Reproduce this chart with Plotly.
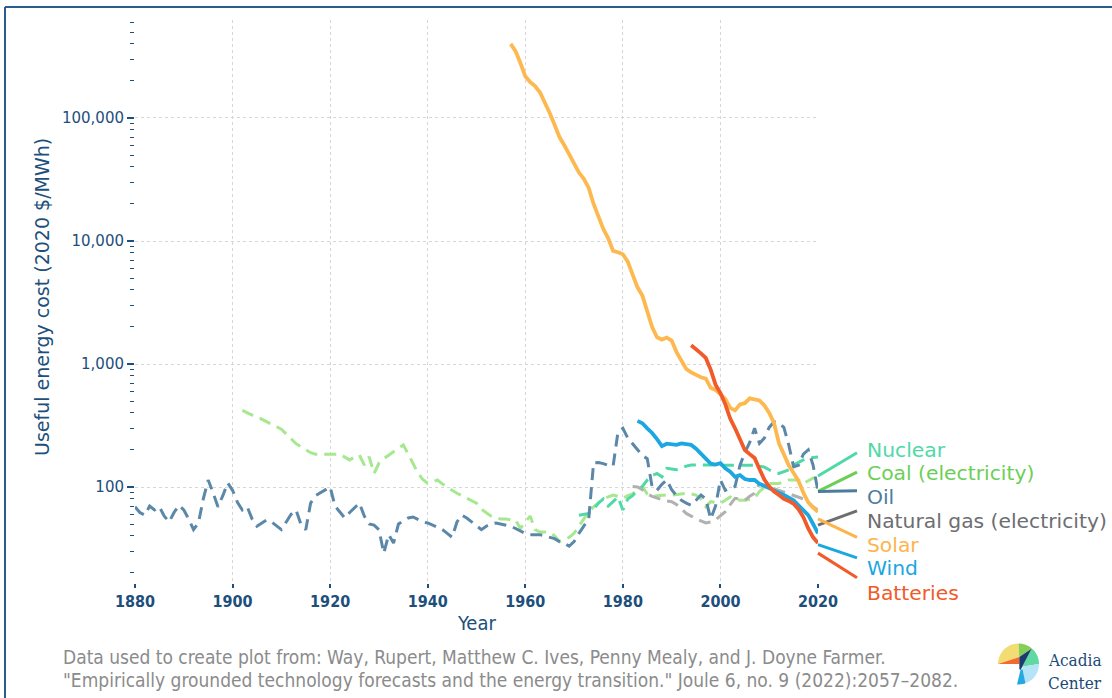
import numpy as np
import plotly.graph_objects as go

# ---------------- data (2020 $/MWh) ----------------
oil_years = list(range(1880, 2021))
oil_cost = [69, 62, 59, 70, 65, 69, 58, 52, 62, 71,
            65, 55, 45, 51, 80, 114, 90, 69, 85, 108,
            94, 75, 65, 69, 55, 48, 51, 54, 52, 48,
            45, 52, 60, 65, 50, 45, 74, 85, 90, 95,
            100, 70, 62, 56, 62, 68, 74, 58, 50, 49,
            45, 29, 41, 35, 50, 53, 56, 57, 54, 52,
            51, 49, 47, 45, 42, 39, 52, 59, 56, 52,
            48, 45, 48, 50, 51, 50, 49, 48, 46, 44,
            42, 41, 41, 41, 40, 39, 38, 36, 35, 33,
            36, 42, 48, 55, 157, 158, 155, 150, 148, 280,
            300, 250, 225, 200, 180, 170, 100, 94, 105, 114,
            95, 85, 78, 74, 71, 78, 86, 80, 55, 70,
            114, 94, 98, 101, 150, 190, 230, 300, 226, 250,
            305, 339, 330, 305, 220, 146, 150, 185, 200, 150,
            92]

coal_years = list(range(1902, 2021))
coal_cost = [420, 400, 385, 373, 355, 340, 325, 310,
             295, 270, 245, 225, 213, 200, 190, 185, 185, 185,
             185, 185, 185, 175, 166, 175, 182, 151, 176, 129,
             156, 170, 182, 195, 208, 220, 185, 155, 130, 115,
             107, 110, 114, 106, 99, 94, 89, 85, 82, 78,
             74, 66, 62, 58, 56, 55, 55, 54, 54, 46,
             52, 58, 45, 43, 43, 43, 40, 36, 37, 39,
             42, 48, 56, 63, 69, 75, 80, 83, 86, 84,
             81, 85, 88, 95, 101, 88, 83, 85, 86, 86,
             86, 87, 88, 89, 88, 86, 80, 69, 76, 75,
             74, 78, 83, 80, 78, 78, 80, 81, 92, 100,
             107, 107, 107, 110, 114, 114, 114, 107, 112, 118,
             121]

nuclear_years = list(range(1971, 2021))
nuclear_cost = [59, 60, 61, 66, 74, 80, 70, 76, 83,
                65, 80, 85, 95, 101, 114, 124, 129, 121, 142,
                140, 138, 142, 148, 151, 151, 151, 151, 151, 151,
                151, 151, 151, 151, 151, 151, 151, 150, 148, 145,
                138, 132, 129, 134, 138, 151, 158, 166, 170, 174,
                175]

gas_years = list(range(1982, 2021))
gas_cost = [101, 100, 95, 88, 84, 81, 79, 77,
            76, 72, 66, 61, 58, 55, 53, 51, 52, 54,
            58, 63, 72, 81, 80, 78, 84, 89, 107, 104,
            101, 97, 94, 91, 89, 86, 83, 80, 75, 69,
            65]

solar_years = list(range(1957, 2021))
solar_cost = [400000, 350000, 280000,
              218000, 196000, 182000, 162000, 135000, 110000, 88000, 70000, 60000, 51000,
              43000, 36000, 32000, 27000, 20000, 16000, 12500, 10500, 8300, 8100,
              7800, 6800, 5200, 4200, 3600, 2700, 2000, 1650, 1580, 1640,
              1550, 1250, 1050, 910, 855, 815, 780, 760, 640, 615,
              570, 520, 440, 420, 470, 480, 525, 515, 505, 460,
              400, 330, 226, 185, 150, 130, 112, 90, 75, 68,
              63]

wind_years = list(range(1983, 2021))
wind_cost = [345, 330, 300, 275, 245, 215, 225,
             222, 220, 226, 222, 220, 205, 185, 170, 155, 152,
             156, 142, 133, 121, 125, 116, 114, 114, 106, 102,
             99, 95, 90, 86, 82, 78, 71, 65, 59, 50,
             42]

battery_years = list(range(1994, 2021))
battery_cost = [1420, 1300, 1220, 1120, 900, 680,
                580, 470, 360, 300, 240, 200, 185, 172, 140, 115,
                101, 92, 86, 80, 77, 73, 66, 57, 46, 39,
                35]

for yrs, vals in [(oil_years, oil_cost), (coal_years, coal_cost), (nuclear_years, nuclear_cost),
                  (gas_years, gas_cost), (solar_years, solar_cost), (wind_years, wind_cost),
                  (battery_years, battery_cost)]:
    assert len(yrs) == len(vals), (yrs[0], len(yrs), len(vals))

x_ticks = [1880, 1900, 1920, 1940, 1960, 1980, 2000, 2020]
y_ticks = [100, 1000, 10000, 100000]
y_ticktext = ["100", "1,000", "10,000", "100,000"]
y_minor = [m * 10 ** e for e in range(1, 6) for m in range(2, 10) if m * 10 ** e <= 600000]

# label name, label colour, label y (value), connector start (value), connector end (value)
label_names = ["Nuclear", "Coal (electricity)", "Oil", "Natural gas (electricity)", "Solar", "Wind", "Batteries"]
label_colors = ["#4fd9a6", "#6ccf55", "#4b7c9c", "#6d6e71", "#fdb44b", "#1ca7e0", "#f15a29"]
label_y = [200, 130, 83, 53, 34, 21.8, 13.8]
conn_start = [123, 92, 92, 49, 55, 34, 29]
conn_end = [190, 132, 93, 64, 39, 26.5, 18.3]

# ---------------- styles ----------------
NAVY = "#1d4f7c"
COND = "DejaVu Sans Condensed, Liberation Sans Narrow, DejaVu Sans"
W, H = 1112, 698
L, R, T, B = 135, 294, 20, 115
YMIN, YMAX = 1.2195, 5.7967

def px_x(px):
    return (px - L) / (W - L - R)

def px_y(py):
    return (H - B - py) / (H - T - B)

def val_y(v):
    return (np.log10(v) - YMIN) / (YMAX - YMIN)

fig = go.Figure()

series = [
    ("Coal (electricity)", coal_years, coal_cost, "#a6e88f", "12px,7px", 3),
    ("Nuclear", nuclear_years, nuclear_cost, "#4fd9a6", "12px,7px", 3),
    ("Natural gas (electricity)", gas_years, gas_cost, "#b1b1b1", "12px,7px", 3),
    ("Oil", oil_years, oil_cost, "#5b88a8", "12px,7px", 3),
    ("Wind", wind_years, wind_cost, "#1ca7e0", "solid", 3.8),
    ("Solar", solar_years, solar_cost, "#fdb94f", "solid", 3.8),
    ("Batteries", battery_years, battery_cost, "#f15a29", "solid", 3.8),
]
for name, xs, ys, col, dash, wd in series:
    fig.add_trace(go.Scatter(x=xs, y=ys, mode="lines", name=name,
                             line=dict(color=col, width=wd, dash=dash),
                             hoverinfo="skip"))

shapes = []
annotations = []

# connectors + labels
for name, col, ly, cs, ce in zip(label_names, label_colors, label_y, conn_start, conn_end):
    shapes.append(dict(type="line", xref="paper", yref="paper",
                       x0=px_x(818), x1=px_x(857), y0=val_y(cs), y1=val_y(ce),
                       line=dict(color=col, width=3)))
    annotations.append(dict(text=name, xref="paper", yref="paper", x=px_x(865), y=val_y(ly),
                            xanchor="left", yanchor="middle", showarrow=False,
                            font=dict(family="DejaVu Sans", size=20.3, color=col)))

# y axis title
annotations.append(dict(text="Useful energy cost (2020 $/MWh)", xref="paper", yref="paper",
                        x=px_x(42), y=px_y(297), textangle=-90, showarrow=False,
                        xanchor="center", yanchor="middle",
                        font=dict(family="DejaVu Sans", size=19, color=NAVY)))
# x axis title
annotations.append(dict(text="Year", xref="paper", yref="paper", x=px_x(476), y=px_y(623),
                        showarrow=False, xanchor="center", yanchor="middle",
                        font=dict(family=COND, size=20, color=NAVY)))
# source note
foot_font = dict(family=COND, size=19, color="#8b8b8b")
annotations.append(dict(text="Data used to create plot from: Way, Rupert, Matthew C. Ives, Penny Mealy, and J. Doyne Farmer.",
                        xref="paper", yref="paper", x=px_x(61), y=px_y(657), xanchor="left", yanchor="middle",
                        showarrow=False, font=foot_font))
annotations.append(dict(text="\"Empirically grounded technology forecasts and the energy transition.\" Joule 6, no. 9 (2022):2057–2082.",
                        xref="paper", yref="paper", x=px_x(61), y=px_y(680), xanchor="left", yanchor="middle",
                        showarrow=False, font=foot_font))
# cropped header title (only descenders visible, as in the reference)
annotations.append(dict(text="<b>Figure 2: Cost of energy</b>", xref="paper", yref="paper",
                        x=px_x(5), y=px_y(-3), xanchor="left", yanchor="bottom", showarrow=False,
                        borderpad=0, font=dict(family="DejaVu Sans", size=20, color=NAVY)))

# logo text
logo_font = dict(family="DejaVu Serif Condensed, DejaVu Serif", size=17, color="#1c4a78")
annotations.append(dict(text="Acadia", xref="paper", yref="paper", x=px_x(1046), y=px_y(660),
                        xanchor="left", yanchor="middle", showarrow=False, font=logo_font))
annotations.append(dict(text="Center", xref="paper", yref="paper", x=px_x(1046), y=px_y(683),
                        xanchor="left", yanchor="middle", showarrow=False, font=logo_font))

# logo shapes (pixel geometry -> paper)
cx, cy, r = 1018.5, 664.0, 20.5

def arc(a0, a1, n=12):
    return [(cx + r * np.sin(np.radians(a)), cy - r * np.cos(np.radians(a)))
            for a in np.linspace(a0, a1, n)]

def path(pts):
    return "M " + " L ".join(f"{px_x(x):.5f},{px_y(y):.5f}" for x, y in pts) + " Z"

logo = [
    ("#f3dc72", arc(270, 360) + [(1019.3, 657.0)]),
    ("#f26a2e", [(998.0, 664.0), (1019.3, 657.0), (1019.3, 664.0)]),
    ("#84cf55", arc(0, 40) + [(1019.3, 657.0)]),
    ("#5fd8a4", arc(40, 90) + [(1023.0, 666.5), (1020.5, 670.0)]),
    ("#b5e3f7", arc(90, 160) + [(1022.5, 669.0), (1023.0, 666.5)]),
    ("#25a9e0", arc(160, 180, 4) + [(1017.0, 684.5), (1020.5, 670.0), (1022.5, 669.0)]),
    ("#1b3d6d", [(1019.3, 657.0), (1031.7, 648.5), (1020.5, 670.0), (1019.3, 669.0)]),
]
for col, pts in logo:
    shapes.append(dict(type="path", xref="paper", yref="paper", path=path(pts),
                       fillcolor=col, line=dict(width=0), layer="above"))

# page frame
shapes.append(dict(type="line", xref="paper", yref="paper", x0=px_x(5), x1=px_x(5),
                   y0=px_y(7), y1=px_y(700), line=dict(color="#2b5d8c", width=2)))
shapes.append(dict(type="line", xref="paper", yref="paper", x0=px_x(5), x1=px_x(1115),
                   y0=px_y(7), y1=px_y(7), line=dict(color="#2b5d8c", width=2)))

fig.update_layout(
    width=W, height=H, autosize=False,
    margin=dict(l=L, r=R, t=T, b=B, pad=0),
    paper_bgcolor="white", plot_bgcolor="white",
    showlegend=False,
    shapes=shapes, annotations=annotations,
    xaxis=dict(range=[1880, 2020], tickmode="array", tickvals=x_ticks,
               ticktext=[f"<b>{t}</b>" for t in x_ticks],
               showgrid=True, gridcolor="#d6d6d6", gridwidth=1, griddash="3px,3px",
               zeroline=False, showline=False,
               ticks="outside", ticklen=4, tickwidth=1.5, tickcolor=NAVY,
               tickfont=dict(family=COND, size=16, color=NAVY)),
    yaxis=dict(type="log", range=[YMIN, YMAX], tickmode="array", tickvals=y_ticks,
               ticktext=y_ticktext,
               showgrid=True, gridcolor="#d6d6d6", gridwidth=1, griddash="3px,3px",
               zeroline=False, showline=False,
               ticks="outside", ticklen=7, tickwidth=1.5, tickcolor=NAVY,
               tickfont=dict(family="DejaVu Sans", size=15, color=NAVY),
               minor=dict(tickmode="array", tickvals=y_minor, ticks="outside", ticklen=4,
                          tickwidth=1.2, tickcolor=NAVY, showgrid=False)),
)

fig.write_html("out.html", config={"displayModeBar": False},
               post_script="document.body.style.margin='0';document.body.style.overflow='hidden';")
